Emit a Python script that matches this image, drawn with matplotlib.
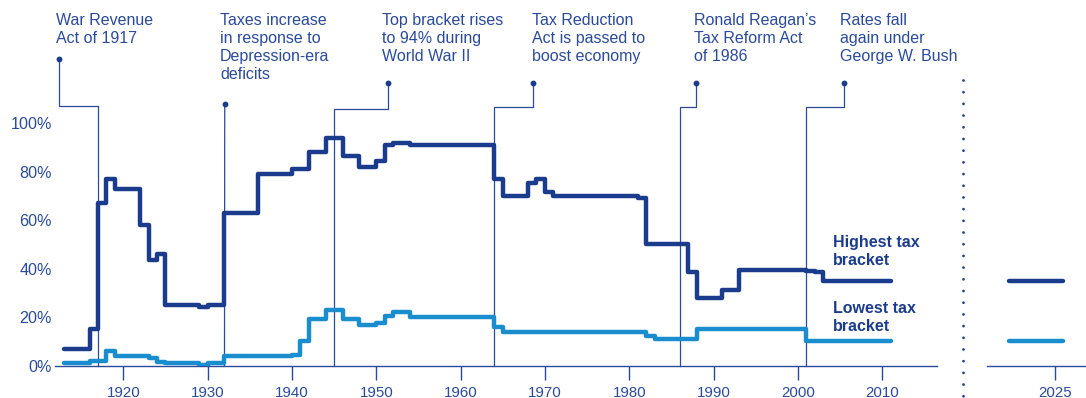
import matplotlib
matplotlib.use("Agg")
import matplotlib.pyplot as plt
from matplotlib.lines import Line2D

plt.rcParams['font.family'] = ['Liberation Sans', 'DejaVu Sans']

NAVY = '#1b3c8c'
LIGHT = '#1a8dcf'
INK = '#2a4a9a'

# US federal income tax rates (%), one value per year, 1913-2011
years = list(range(1913, 2012))
top_rate = ([7, 7, 7, 15, 67, 77, 73, 73, 73, 58, 43.5, 46,
             25, 25, 25, 25, 24, 25, 25,
             63, 63, 63, 63, 79, 79, 79, 79, 81.1, 81, 88, 88, 94, 94,
             86.45, 86.45, 82.13, 82.13, 84.36, 91, 92, 92]
            + [91] * 10
            + [77, 70, 70, 70, 75.25, 77, 71.75]
            + [70] * 10
            + [69.13]
            + [50] * 5
            + [38.5, 28, 28, 28, 31, 31]
            + [39.6] * 8
            + [39.1, 38.6]
            + [35] * 9)
low_rate = ([1, 1, 1, 2, 2, 6, 4, 4, 4, 4, 3, 1.5,
             1.125, 1.125, 1.125, 1.125, 0.375, 1.125, 1.125]
            + [4] * 8
            + [4.4, 10, 19, 19, 23, 23, 19, 19, 16.6, 16.6, 17.4, 20.4, 22.2, 22.2]
            + [20] * 10
            + [16]
            + [14] * 17
            + [12]
            + [11] * 5
            + [15] * 13
            + [10] * 11)

# current rates (2019 onward)
recent_years = [2019, 2026]
recent_top = [35, 35]
recent_low = [10, 10]

x_ticks = [1920, 1930, 1940, 1950, 1960, 1970, 1980, 1990, 2000, 2010]
y_ticks = [0, 20, 40, 60, 80, 100]
y_labels = ['0%', '20%', '40%', '60%', '80%', '100%']

event_years = [1917, 1932, 1945, 1964, 1986, 2001]
event_notes = ["War Revenue\nAct of 1917",
               "Taxes increase\nin response to\nDepression-era\ndeficits",
               "Top bracket rises\nto 94% during\nWorld War II",
               "Tax Reduction\nAct is passed to\nboost economy",
               "Ronald Reagan\u2019s\nTax Reform Act\nof 1986",
               "Rates fall\nagain under\nGeorge W. Bush"]
# layout of the callouts (x in years, y in % of the axis)
note_x = [1911.98, 1931.47, 1950.72, 1968.45, 1987.73, 2005.02]
dot_x = [1912.41, 1932.03, 1951.44, 1968.64, 1987.94, 2005.46]
dot_y = [126.7, 108.1, 116.8, 116.8, 116.8, 116.8]
elbow_y = [107.1, None, 105.8, 106.9, 106.9, 106.9]

fig = plt.figure(figsize=(10.86, 3.98), dpi=100)
W, H = 1086, 398
bottom = (H - 365.5) / H
height = 242.2 / H
ax = fig.add_axes([55 / W, bottom, (937 - 55) / W, height])
ax2 = fig.add_axes([987 / W, bottom, (W - 987) / W, height])

line_kw = dict(lw=3.2, solid_joinstyle='round', solid_capstyle='round', zorder=3)
ax.plot(years, top_rate, drawstyle='steps-post', color=NAVY, **line_kw)
ax.plot(years, low_rate, drawstyle='steps-post', color=LIGHT, **line_kw)
ax2.plot(recent_years, recent_top, color=NAVY, **line_kw)
ax2.plot(recent_years, recent_low, color=LIGHT, **line_kw)

ax.set_xlim(1911.9, 2016.5)
ax.set_ylim(0, 100)
ax2.set_xlim(2016.15, 2028.98)
ax2.set_ylim(0, 100)

for a in (ax, ax2):
    for s in ['top', 'right', 'left']:
        a.spines[s].set_visible(False)
    a.spines['bottom'].set_color(INK)
    a.spines['bottom'].set_linewidth(1.0)
    a.tick_params(axis='x', length=10, width=1.0, color=INK, labelcolor=INK,
                  labelsize=10.8, pad=4.5)
    a.patch.set_alpha(0)

ax.set_xticks(x_ticks)
ax2.set_xticks([2025])
ax.set_yticks(y_ticks)
ax.set_yticklabels(y_labels)
ax.tick_params(axis='y', length=0, pad=2.4, labelcolor=INK, labelsize=11.6)
ax2.set_yticks([])

# callouts
for i, note in enumerate(event_notes):
    ax.text(note_x[i], 145.4, note, ha='left', va='top', fontsize=11.5,
            color=INK, linespacing=1.25, clip_on=False)
    if elbow_y[i] is None:
        xs = [dot_x[i], event_years[i]]
        ys = [dot_y[i], 0]
    else:
        xs = [dot_x[i], dot_x[i], event_years[i], event_years[i]]
        ys = [dot_y[i], elbow_y[i], elbow_y[i], 0]
    ax.plot(xs, ys, color=INK, lw=0.9, clip_on=False, zorder=2)
    ax.plot(dot_x[i], dot_y[i], 'o', color=NAVY, ms=3.2, clip_on=False, zorder=4)

# series labels
ax.text(2004.15, 53.7, "Highest tax\nbracket", ha='left', va='top', fontsize=11.5,
        fontweight='bold', color=NAVY, linespacing=1.22)
ax.text(2004.15, 26.5, "Lowest tax\nbracket", ha='left', va='top', fontsize=11.5,
        fontweight='bold', color=NAVY, linespacing=1.22)

# dotted separator between history and today
fig.add_artist(Line2D([962.7 / W, 962.7 / W], [(H - 80) / H, 0], color=NAVY,
                      lw=2.0, linestyle=(0, (0.01, 4.2)), dash_capstyle='round'))

fig.savefig('out.png', dpi=100)
